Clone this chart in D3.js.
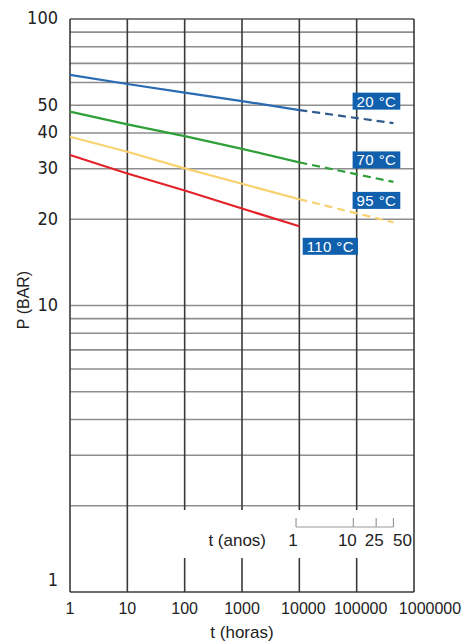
<!DOCTYPE html>
<html>
<head>
<meta charset="utf-8">
<script src="https://cdn.jsdelivr.net/npm/d3@7"></script>
<style>
  body { margin: 0; background: #fff; }
  svg { display: block; }
  text { font-family: "Liberation Sans", Arial, sans-serif; fill: #222; }
  .ytick { font-family: "Liberation Sans Narrow", "DejaVu Sans Condensed", sans-serif; }
</style>
</head>
<body>
<svg width="465" height="644"></svg>
<script>
// data
var hours = [1, 10, 100, 1000, 10000];
var hoursExt = [10000, 438000];   // dashed extrapolation up to 50 anos
var p20 = [63.8, 59.3, 55.3, 51.7, 48.1];
var p20ext = [48.1, 43.3];
var p70 = [47.5, 42.9, 39.0, 35.2, 31.6];
var p70ext = [31.6, 27.0];
var p95 = [38.8, 34.4, 30.1, 26.6, 23.5];
var p95ext = [23.5, 19.5];
var p110 = [33.5, 28.9, 25.2, 21.8, 18.9];
var seriesNames = ["20 °C", "70 °C", "95 °C", "110 °C"];

var xTicks = [1, 10, 100, 1000, 10000, 100000, 1000000];
var yTickLabels = [1, 10, 20, 30, 40, 50, 100];
var yGrid = [2, 3, 4, 5, 6, 7, 8, 9, 10, 20, 30, 40, 50, 60, 70, 80, 90, 100];
var anos = [1, 10, 25, 50];
var hoursPerYear = 8760;

var series = [
  { name: seriesNames[0], solid: p20, ext: p20ext, color: "#2a6bb2", extColor: "#2f5b8c" },
  { name: seriesNames[1], solid: p70, ext: p70ext, color: "#2f9f3a", extColor: "#2f9f3a" },
  { name: seriesNames[2], solid: p95, ext: p95ext, color: "#f7d26e", extColor: "#f7d26e" },
  { name: seriesNames[3], solid: p110, ext: null, color: "#e2232a", extColor: null }
];

var svg = d3.select("svg");
var margin = { top: 19, right: 51, bottom: 52, left: 70 };
var width = +svg.attr("width") - margin.left - margin.right;
var height = +svg.attr("height") - margin.top - margin.bottom;

var x = d3.scaleLog().domain([1, 1000000]).range([0, width]);
var y = d3.scaleLog().domain([1, 100]).range([height, 0]);

var g = svg.append("g")
  .attr("transform", "translate(" + margin.left + "," + margin.top + ")");

// horizontal grid
g.append("g").selectAll("line")
  .data(yGrid)
  .enter().append("line")
    .attr("x1", 0).attr("x2", width)
    .attr("y1", function(d) { return y(d); })
    .attr("y2", function(d) { return y(d); })
    .attr("stroke", function(d) { return d == 100 ? "#555" : "#8e8e8e"; })
    .attr("stroke-width", 1.6);

// vertical grid, interrupted where the "t (anos)" scale sits
var gapTop = 510 - margin.top, gapBottom = 558 - margin.top;
var vg = g.append("g");
xTicks.forEach(function(d) {
  var xx = x(d);
  var broken = d >= 100 && d <= 100000;
  var segs = broken ? [[0, gapTop], [gapBottom, height]] : [[0, height]];
  segs.forEach(function(s) {
    vg.append("line")
      .attr("x1", xx).attr("x2", xx)
      .attr("y1", s[0]).attr("y2", s[1])
      .attr("stroke", "#3a3a3a")
      .attr("stroke-width", 1.6);
  });
});

// bottom axis line
g.append("line")
  .attr("x1", 0).attr("x2", width)
  .attr("y1", height).attr("y2", height)
  .attr("stroke", "#3a3a3a").attr("stroke-width", 1.6);

// lines
var line = d3.line()
  .x(function(d) { return x(d[0]); })
  .y(function(d) { return y(d[1]); });

series.forEach(function(s) {
  g.append("path")
    .datum(d3.zip(hours, s.solid))
    .attr("fill", "none")
    .attr("stroke", s.color)
    .attr("stroke-width", 2.2)
    .attr("d", line);
  if (s.ext) {
    g.append("path")
      .datum(d3.zip(hoursExt, s.ext))
      .attr("fill", "none")
      .attr("stroke", s.extColor)
      .attr("stroke-width", 2.2)
      .attr("stroke-dasharray", "8,5")
      .attr("d", line);
  }
});

// temperature labels
series.forEach(function(s) {
  var endX, endY, cx, cy;
  if (s.ext) {
    endX = x(hoursExt[hoursExt.length - 1]);
    endY = y(s.ext[s.ext.length - 1]);
    cx = endX - 17; cy = endY - 22;
  } else {
    endX = x(hours[hours.length - 1]);
    endY = y(s.solid[s.solid.length - 1]);
    cx = endX + 31; cy = endY + 20;
  }
  var lab = g.append("g").attr("transform", "translate(" + cx + "," + cy + ")");
  var t = lab.append("text")
    .attr("text-anchor", "middle")
    .attr("dy", "0.36em")
    .style("font-size", "15px")
    .style("fill", "#fff")
    .style("letter-spacing", "0.4px")
    .text(s.name);
  var bb = t.node().getBBox();
  lab.insert("rect", "text")
    .attr("x", bb.x - 4).attr("y", -8.5)
    .attr("width", bb.width + 8).attr("height", 17)
    .attr("fill", "#1160ae");
});

// y tick labels
g.append("g").selectAll("text")
  .data(yTickLabels)
  .enter().append("text")
    .attr("class", "ytick")
    .attr("x", -12)
    .attr("y", function(d) { return y(d) + (d == 1 ? -12 : -1); })
    .attr("dy", "0.36em")
    .attr("text-anchor", "end")
    .style("font-size", "18px")
    .text(function(d) { return d; });

// x tick labels
g.append("g").selectAll("text")
  .data(xTicks)
  .enter().append("text")
    .attr("x", function(d) { return x(d) + (d == 1000000 ? 16 : (d >= 10000 ? 4 : 0)); })
    .attr("y", height + 22)
    .attr("text-anchor", "middle")
    .style("font-size", "16px")
    .text(function(d) { return d; });

// axis titles
g.append("text")
  .attr("x", width / 2)
  .attr("y", height + 46)
  .attr("text-anchor", "middle")
  .style("font-size", "17px")
  .text("t (horas)");

svg.append("text")
  .attr("transform", "translate(29,300) rotate(-90)")
  .attr("text-anchor", "middle")
  .style("font-size", "16px")
  .text("P (BAR)");

// t (anos) secondary scale
var xa = function(a) { return x(a * hoursPerYear); };
var ay = 527 - margin.top;
var ag = g.append("g");
ag.append("line")
  .attr("x1", xa(anos[0])).attr("x2", xa(anos[anos.length - 1]))
  .attr("y1", ay).attr("y2", ay)
  .attr("stroke", "#999").attr("stroke-width", 1.2);
ag.selectAll(".atick")
  .data(anos)
  .enter().append("line")
    .attr("class", "atick")
    .attr("x1", function(d) { return xa(d); })
    .attr("x2", function(d) { return xa(d); })
    .attr("y1", ay).attr("y2", ay - 9)
    .attr("stroke", "#999").attr("stroke-width", 1.2);
ag.selectAll(".alab")
  .data(anos)
  .enter().append("text")
    .attr("class", "alab")
    .attr("x", function(d) { return xa(d) + (d == 10 ? -6 : d == 50 ? 9 : d == 1 ? -3 : -2); })
    .attr("y", ay + 19)
    .attr("text-anchor", "middle")
    .style("font-size", "17px")
    .text(function(d) { return d; });
ag.append("text")
  .attr("x", xa(anos[0]) - 30)
  .attr("y", ay + 19)
  .attr("text-anchor", "end")
  .style("font-size", "17px")
  .text("t (anos)");
</script>
</body>
</html>
